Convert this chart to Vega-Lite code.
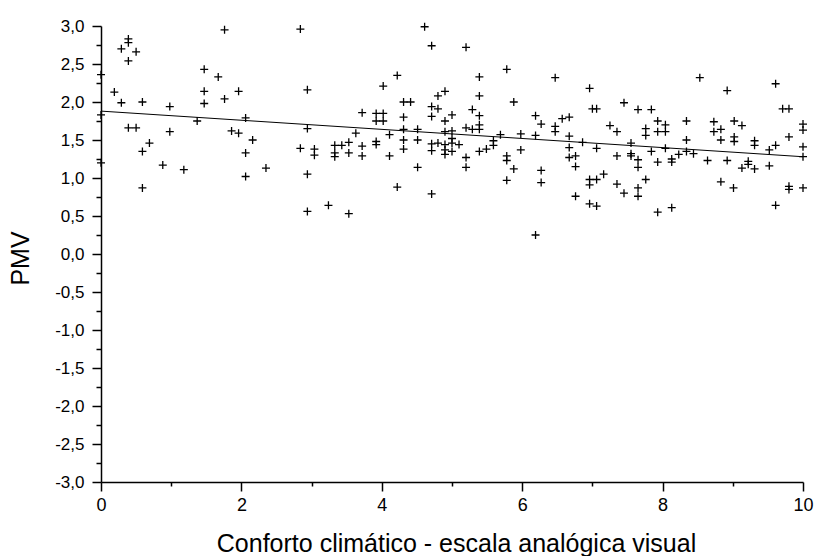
{
  "$schema": "https://vega.github.io/schema/vega-lite/v6.json",
  "width": 702,
  "height": 456,
  "autosize": "none",
  "padding": {"left": 101, "top": 26, "right": 12, "bottom": 74},
  "background": "white",
  "config": {
    "locale": {"number": {"decimal": ",", "thousands": ".", "grouping": [3], "currency": ["", ""], "minus": "-"}},
    "view": {"stroke": null},
    "font": "Liberation Sans",
    "axis": {
      "grid": false,
      "domainColor": "black",
      "domainWidth": 1.5,
      "tickColor": "black",
      "tickWidth": 1.5,
      "tickSize": 9,
      "labelColor": "black",
      "labelFont": "Liberation Sans",
      "labelFontSize": 18,
      "titleColor": "black",
      "titleFont": "Liberation Sans",
      "titleFontSize": 25,
      "titleFontWeight": "normal",
      "labelOverlap": false,
      "labelFlush": false
    }
  },
  "datasets": {
    "pts": [
      {"x":0,"y":2.36},{"x":0,"y":1.83},{"x":0,"y":1.20},
      {"x":0.19,"y":2.13},{"x":0.29,"y":2.70},{"x":0.29,"y":1.99},{"x":0.39,"y":2.83},{"x":0.39,"y":2.78},{"x":0.39,"y":2.54},{"x":0.50,"y":2.66},{"x":0.39,"y":1.66},{"x":0.50,"y":1.66},{"x":0.59,"y":2.00},{"x":0.59,"y":1.35},{"x":0.59,"y":0.87},{"x":0.69,"y":1.46},{"x":0.88,"y":1.17},{"x":0.98,"y":1.94},{"x":0.98,"y":1.61},{"x":1.18,"y":1.11},{"x":1.37,"y":1.75},{"x":1.47,"y":2.43},{"x":1.47,"y":2.14},{"x":1.47,"y":1.98},{"x":1.67,"y":2.33},{"x":1.76,"y":2.95},{"x":1.76,"y":2.04},{"x":1.86,"y":1.62},{"x":1.96,"y":2.14},{"x":1.96,"y":1.59},{"x":2.06,"y":1.79},{"x":2.06,"y":1.33},{"x":2.06,"y":1.02},{"x":2.16,"y":1.50},{"x":2.35,"y":1.13},{"x":2.84,"y":2.96},{"x":2.84,"y":1.39},{"x":2.94,"y":2.16},{"x":2.94,"y":1.65},{"x":2.94,"y":1.05},{"x":2.94,"y":0.56},{"x":3.04,"y":1.38},{"x":3.04,"y":1.30},{"x":3.24,"y":0.64},
      {"x":3.33,"y":1.43},{"x":3.33,"y":1.33},{"x":3.33,"y":1.28},{"x":3.43,"y":1.43},{"x":3.53,"y":1.47},{"x":3.53,"y":1.33},{"x":3.53,"y":0.53},{"x":3.63,"y":1.59},{"x":3.72,"y":1.86},{"x":3.72,"y":1.42},{"x":3.72,"y":1.29},{"x":3.92,"y":1.85},{"x":3.92,"y":1.75},{"x":3.92,"y":1.48},{"x":3.92,"y":1.44},{"x":4.02,"y":2.21},{"x":4.02,"y":1.85},{"x":4.02,"y":1.75},{"x":4.11,"y":1.57},{"x":4.11,"y":1.29},{"x":4.22,"y":2.35},{"x":4.22,"y":0.88},{"x":4.31,"y":2.00},{"x":4.31,"y":1.80},{"x":4.31,"y":1.64},{"x":4.31,"y":1.50},{"x":4.31,"y":1.38},{"x":4.41,"y":2.00},{"x":4.51,"y":1.64},{"x":4.51,"y":1.50},{"x":4.51,"y":1.14},{"x":4.61,"y":2.99},{"x":4.71,"y":2.74},{"x":4.71,"y":1.94},{"x":4.71,"y":1.81},{"x":4.71,"y":1.45},{"x":4.71,"y":1.36},{"x":4.71,"y":0.79},{"x":4.80,"y":2.08},{"x":4.80,"y":1.91},{"x":4.80,"y":1.46},{"x":4.90,"y":2.14},{"x":4.90,"y":1.75},{"x":4.90,"y":1.61},{"x":4.90,"y":1.44},{"x":4.90,"y":1.37},{"x":4.90,"y":1.31},{"x":5.00,"y":1.83},{"x":5.00,"y":1.62},{"x":5.00,"y":1.52},{"x":5.00,"y":1.46},{"x":5.00,"y":1.35},{"x":5.10,"y":1.44},{"x":5.20,"y":2.72},{"x":5.20,"y":1.66},{"x":5.20,"y":1.27},{"x":5.20,"y":1.14},{"x":5.29,"y":1.90},{"x":5.29,"y":1.64},{"x":5.39,"y":2.33},{"x":5.39,"y":2.08},{"x":5.39,"y":1.82},{"x":5.39,"y":1.70},{"x":5.39,"y":1.64},{"x":5.39,"y":1.35},{"x":5.49,"y":1.38},{"x":5.59,"y":1.49},{"x":5.59,"y":1.43},{"x":5.69,"y":1.57},{"x":5.78,"y":2.43},{"x":5.78,"y":1.29},{"x":5.78,"y":1.23},{"x":5.78,"y":0.97},{"x":5.88,"y":2.00},{"x":5.88,"y":1.12},{"x":5.98,"y":1.58},{"x":5.98,"y":1.37},{"x":6.19,"y":1.82},{"x":6.19,"y":1.56},{"x":6.19,"y":0.25},{"x":6.27,"y":1.71},{"x":6.27,"y":1.10},{"x":6.27,"y":0.94},
      {"x":6.47,"y":2.32},{"x":6.47,"y":1.68},{"x":6.47,"y":1.61},{"x":6.57,"y":1.78},{"x":6.67,"y":1.80},{"x":6.67,"y":1.55},{"x":6.67,"y":1.40},{"x":6.67,"y":1.27},{"x":6.76,"y":1.29},{"x":6.76,"y":1.15},{"x":6.76,"y":0.76},{"x":6.86,"y":1.47},{"x":6.96,"y":2.18},{"x":6.96,"y":0.98},{"x":6.96,"y":0.91},{"x":6.96,"y":0.66},{"x":7.00,"y":1.91},{"x":7.06,"y":1.91},{"x":7.06,"y":1.39},{"x":7.06,"y":0.98},{"x":7.06,"y":0.63},{"x":7.16,"y":1.05},{"x":7.25,"y":1.69},{"x":7.35,"y":1.61},{"x":7.35,"y":1.29},{"x":7.35,"y":0.92},{"x":7.45,"y":1.99},{"x":7.45,"y":0.80},{"x":7.55,"y":1.46},{"x":7.55,"y":1.32},{"x":7.55,"y":1.29},{"x":7.65,"y":1.90},{"x":7.65,"y":1.24},{"x":7.65,"y":1.14},{"x":7.65,"y":0.87},{"x":7.65,"y":0.76},{"x":7.76,"y":1.65},{"x":7.76,"y":1.56},{"x":7.76,"y":0.98},{"x":7.84,"y":1.90},{"x":7.84,"y":1.35},{"x":7.93,"y":1.75},{"x":7.93,"y":1.61},{"x":7.93,"y":1.21},{"x":7.93,"y":0.55},{"x":8.04,"y":1.70},{"x":8.04,"y":1.61},{"x":8.04,"y":1.39},{"x":8.13,"y":1.25},{"x":8.13,"y":1.21},{"x":8.13,"y":0.61},{"x":8.23,"y":1.31},{"x":8.34,"y":1.75},{"x":8.34,"y":1.50},{"x":8.34,"y":1.35},{"x":8.44,"y":1.32},{"x":8.53,"y":2.32},{"x":8.64,"y":1.23},{"x":8.73,"y":1.74},{"x":8.73,"y":1.61},{"x":8.83,"y":1.64},{"x":8.83,"y":1.50},{"x":8.83,"y":0.95},{"x":8.92,"y":2.15},{"x":8.92,"y":1.23},{"x":9.01,"y":0.87},{"x":9.02,"y":1.75},{"x":9.02,"y":1.54},{"x":9.02,"y":1.48},{"x":9.13,"y":1.69},{"x":9.13,"y":1.13},{"x":9.22,"y":1.22},{"x":9.22,"y":1.18},{"x":9.31,"y":1.49},{"x":9.31,"y":1.43},{"x":9.31,"y":1.12},{"x":9.52,"y":1.37},{"x":9.52,"y":1.16},{"x":9.61,"y":2.24},{"x":9.61,"y":1.43},{"x":9.61,"y":0.64},{"x":9.71,"y":1.91},{"x":9.80,"y":1.91},{"x":9.80,"y":1.54},{"x":9.80,"y":0.89},{"x":9.80,"y":0.85},{"x":10,"y":1.71},{"x":10,"y":1.63},{"x":10,"y":1.41},{"x":10,"y":1.28},{"x":10,"y":0.87}
    ],
    "fit": [
      {"x": 0, "y": 1.88},
      {"x": 10, "y": 1.28}
    ]
  },
  "resolve": {"axis": {"x": "independent", "y": "independent"}},
  "layer": [
    {
      "data": {"name": "pts"},
      "mark": {
        "type": "point",
        "shape": "M-1,0H1M0,-1V1",
        "size": 64,
        "filled": false,
        "stroke": "black",
        "strokeWidth": 1.3,
        "opacity": 1,
        "clip": false
      },
      "encoding": {
        "x": {
          "field": "x",
          "type": "quantitative",
          "scale": {"domain": [0, 10], "nice": false, "zero": false},
          "axis": {
            "orient": "bottom",
            "title": "Conforto climático - escala analógica visual",
            "values": [0, 2, 4, 6, 8, 10],
            "format": "d",
            "labelOverlap": false,
            "labelFlush": false,
            "labelPadding": 5,
            "titleY": 69,
            "titleBaseline": "alphabetic",
            "titleX": 355,
            "titleAnchor": "middle"
          }
        },
        "y": {
          "field": "y",
          "type": "quantitative",
          "scale": {"domain": [-3, 3], "nice": false, "zero": false},
          "axis": {
            "orient": "left",
            "title": "PMV",
            "values": [-3, -2, -1, 0, 1, 2, 3],
            "format": ".1f",
            "labelOverlap": false,
            "labelFlush": false,
            "labelFontSize": 17,
            "labelPadding": 8,
            "titleAngle": -90,
            "titleX": -81,
            "titleY": 232,
            "titleAlign": "center",
            "titleBaseline": "middle"
          }
        }
      }
    },
    {
      "data": {"name": "fit"},
      "mark": {"type": "line", "color": "black", "strokeWidth": 1, "clip": false},
      "encoding": {
        "x": {"field": "x", "type": "quantitative", "axis": null},
        "y": {
          "field": "y",
          "type": "quantitative",
          "axis": {
            "orient": "left",
            "title": null,
            "domain": false,
            "values": [-2.5, -1.5, -0.5, 0.5, 1.5, 2.5],
            "format": ".1f",
            "labelOverlap": false,
            "labelFlush": false,
            "labelFontSize": 17,
            "labelPadding": 8
          }
        }
      }
    },
    {
      "data": {"name": "fit"},
      "mark": {"type": "line", "opacity": 0, "strokeWidth": 0, "clip": false},
      "encoding": {
        "x": {
          "field": "x",
          "type": "quantitative",
          "axis": {
            "orient": "bottom",
            "title": null,
            "domain": false,
            "labels": false,
            "tickSize": 4,
            "values": [1, 3, 5, 7, 9]
          }
        },
        "y": {
          "field": "y",
          "type": "quantitative",
          "axis": {
            "orient": "left",
            "title": null,
            "domain": false,
            "labels": false,
            "tickSize": 5,
            "values": [-2.75, -2.25, -1.75, -1.25, -0.75, -0.25, 0.25, 0.75, 1.25, 1.75, 2.25, 2.75]
          }
        }
      }
    }
  ]
}
